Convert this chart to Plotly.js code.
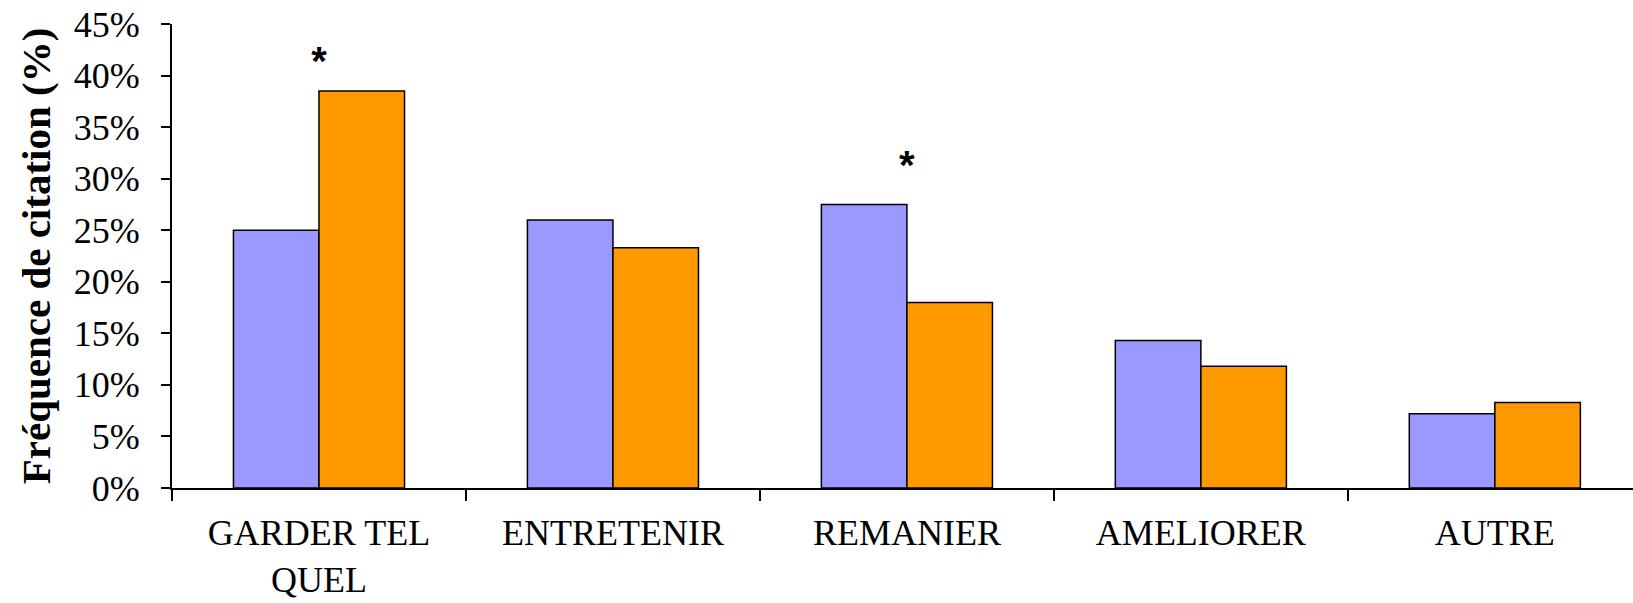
<!DOCTYPE html>
<html>
<head>
<meta charset="utf-8">
<script src="https://cdn.plot.ly/plotly-3.0.1.min.js"></script>
<style>html,body{margin:0;padding:0;background:#fff;}#chart{width:1633px;height:603px;}</style>
</head>
<body>
<div id="chart"></div>
<script>
var categories = ["GARDER TEL<br>QUEL", "ENTRETENIR", "REMANIER", "AMELIORER", "AUTRE"];
var seriesBlue = [25.0, 26.0, 27.5, 14.3, 7.2];
var seriesOrange = [38.5, 23.3, 18.0, 11.8, 8.3];
var starY = [41.0, null, 30.9, null, null];
var starText = ["<b>*</b>", "", "<b>*</b>", "", ""];
var yTickVals = [0, 5, 10, 15, 20, 25, 30, 35, 40, 45];
var yTickText = ["0%", "5%", "10%", "15%", "20%", "25%", "30%", "35%", "40%", "45%"];
var yTitle = "Fréquence de citation (%)";

var serif = "Liberation Serif, Times New Roman, serif";

var traces = [
  {type: "bar", x: categories, y: seriesBlue, marker: {color: "#9999FF", line: {color: "#000000", width: 1.5}}, hoverinfo: "y"},
  {type: "bar", x: categories, y: seriesOrange, marker: {color: "#FF9900", line: {color: "#000000", width: 1.5}}, hoverinfo: "y"},
  {type: "scatter", mode: "text", x: categories, y: starY, text: starText, textposition: "middle center",
   textfont: {family: "Liberation Sans, Arial, sans-serif", size: 40, color: "#000000"}, hoverinfo: "skip"}
];

var layout = {
  width: 1633, height: 603,
  margin: {l: 172, r: 0, t: 24, b: 115, pad: 0},
  paper_bgcolor: "#ffffff", plot_bgcolor: "#ffffff",
  showlegend: false,
  barmode: "group", bargap: 0.418, bargroupgap: 0,
  font: {family: serif, color: "#000000"},
  xaxis: {
    type: "category", range: [-0.5, 4.47], automargin: false,
    showline: true, linecolor: "#000000", linewidth: 2,
    ticks: "outside", tickson: "boundaries", ticklen: 11, tickwidth: 2, tickcolor: "#000000",
    tickfont: {family: serif, size: 36, color: "#000000"}, ticklabelstandoff: 12,
    showgrid: false, zeroline: false, fixedrange: true
  },
  yaxis: {
    range: [0, 45], automargin: false,
    tickvals: yTickVals, ticktext: yTickText,
    showline: true, linecolor: "#000000", linewidth: 2,
    ticks: "outside", ticklen: 9, tickwidth: 2, tickcolor: "#000000",
    tickfont: {family: serif, size: 36, color: "#000000"}, ticklabelstandoff: 14,
    showgrid: false, zeroline: false, fixedrange: true,
    title: {text: "<b>" + yTitle + "</b>", font: {family: serif, size: 41, color: "#000000"}, standoff: 10}
  }
};

Plotly.newPlot("chart", traces, layout, {displayModeBar: false, staticPlot: true});
</script>
</body>
</html>
